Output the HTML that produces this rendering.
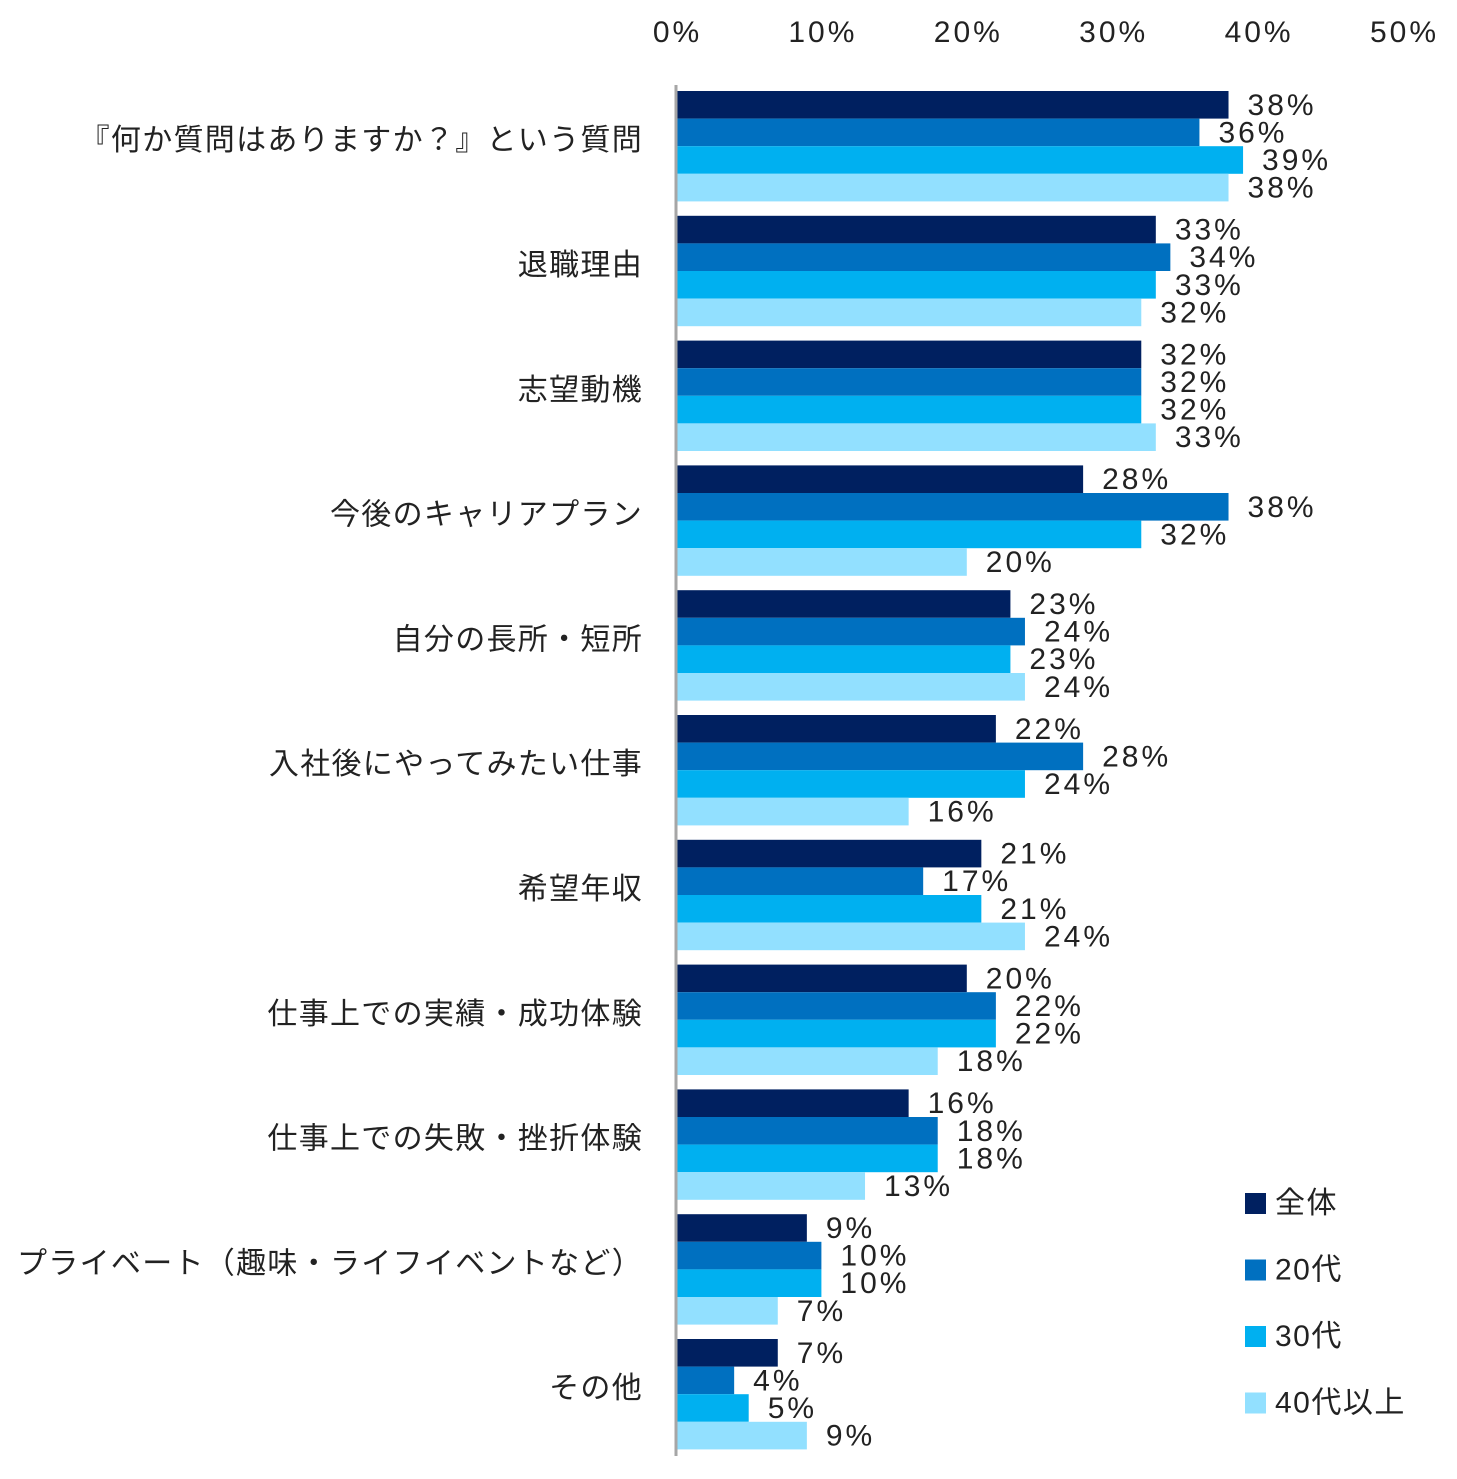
<!DOCTYPE html>
<html><head><meta charset="utf-8">
<style>
html,body{margin:0;padding:0;background:#fff;}
svg{display:block;font-family:"Liberation Sans","Noto Sans CJK JP",sans-serif;}
</style></head>
<body>
<svg id="chart" width="1457" height="1479" viewBox="0 0 1457 1479" xmlns="http://www.w3.org/2000/svg">
<g id="ticks"></g>
<g id="bars"></g>
<g id="cats"></g>
<line x1="676" y1="85" x2="676" y2="1456" stroke="#a6a6a6" stroke-width="3"/>
<g id="legend"></g>
</svg>
<script>
const categories = ["『何か質問はありますか？』という質問","退職理由","志望動機","今後のキャリアプラン","自分の長所・短所","入社後にやってみたい仕事","希望年収","仕事上での実績・成功体験","仕事上での失敗・挫折体験","プライベート（趣味・ライフイベントなど）","その他"];
const seriesNames = ["全体","20代","30代","40代以上"];
const allValues = [38,33,32,28,23,22,21,20,16,9,7];
const age20Values = [36,34,32,38,24,28,17,22,18,10,4];
const age30Values = [39,33,32,32,23,24,21,22,18,10,5];
const age40Values = [38,32,33,20,24,16,24,18,13,7,9];
const tickValues = [0,10,20,30,40,50];
const tickLabels = ["0%","10%","20%","30%","40%","50%"];
const colors = ["#002060","#0070c0","#00b0f0","#92e0ff"];
const series = [allValues, age20Values, age30Values, age40Values];
const NS = "http://www.w3.org/2000/svg";
const x = v => 676 + v * 14.54;
const groupTop = i => 91 + i * 124.8;
const barH = 27.6;
function mk(tag, attrs, parent, text){
  const e = document.createElementNS(NS, tag);
  for (const k in attrs) e.setAttribute(k, attrs[k]);
  if (text !== undefined) e.textContent = text;
  parent.appendChild(e); return e;
}
const tg = document.getElementById('ticks');
tickValues.forEach((t, i) => {
  const el = mk('text', {x: x(t) + 1.5, y: 42, 'text-anchor': 'middle', 'font-size': 30, 'letter-spacing': 3, fill: '#222'}, tg, tickLabels[i]);
  
  
});
const bg = document.getElementById('bars');
const cg = document.getElementById('cats');
categories.forEach((c, i) => {
  const t = mk('text', {x: 643, y: groupTop(i) + 4 * barH / 2 + 4, 'text-anchor': 'end', 'font-size': 30, 'letter-spacing': 1.3, fill: '#222'}, cg, c);
  
  
  series.forEach((s, j) => {
    const y = groupTop(i) + j * barH;
    const r = mk('rect', {x: 677, y: y, width: x(s[i]) - 677, height: barH, fill: colors[j]}, bg);
    
    
    const l = mk('text', {x: x(s[i]) + 19, y: y + barH / 2 + 10, 'font-size': 30, 'letter-spacing': 3, fill: '#222'}, bg, s[i] + '%');
    
    
  });
});
const lg = document.getElementById('legend');
seriesNames.forEach((n, j) => {
  const cy = 1203 + j * 66.5;
  const r = mk('rect', {x: 1245, y: cy - 10, width: 21, height: 21, fill: colors[j]}, lg);
  
  
  const t = mk('text', {x: 1275, y: cy + 10, 'font-size': 30, 'letter-spacing': 1.5, fill: '#222'}, lg, n);
  
  
});
</script>
</body></html>
